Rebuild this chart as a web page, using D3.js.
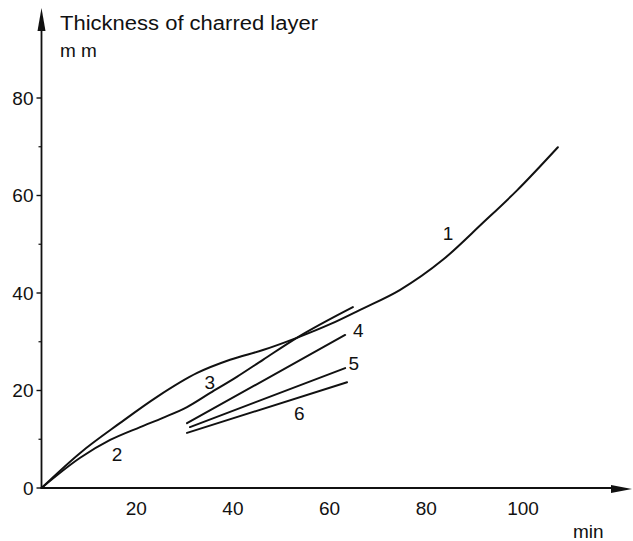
<!DOCTYPE html>
<html>
<head>
<meta charset="utf-8">
<script src="https://cdn.jsdelivr.net/npm/d3@7"></script>
<style>
  html, body { margin: 0; padding: 0; background: #fff; }
  text { font-family: "Liberation Sans", "DejaVu Sans", sans-serif; fill: #111; }
</style>
</head>
<body>
<svg id="chart" width="633" height="541"></svg>
<script>
// ---- data (time in min, thickness in mm) ----
const curve1 = [[0,0],[8.0,7.2],[16.2,13.3],[23.9,18.7],[32.2,23.6],[39.0,26.3],[45.8,28.3],[52.8,30.8],[59.7,33.6],[66.0,36.6],[74.1,40.6],[83.0,46.8],[91.3,54.4],[98.3,61.0],[106.8,69.9]];
const curve2 = [[0,0],[8.0,6.2],[14.2,9.85],[20.4,12.5],[25.1,14.4],[30.1,16.6]];
const curve3 = [[30.1,16.6],[34.9,19.5],[40.4,22.8],[45.8,26.3],[52.8,30.8],[64.4,37.1]];
const curve4 = [[30.1,13.3],[62.8,31.4]];
const curve5 = [[30.7,12.5],[62.8,24.6]];
const curve6 = [[30.1,11.3],[63.2,21.7]];
const curveNames = ["1","2","3","4","5","6"];
const labelX = [84.1, 15.6, 34.8, 65.5, 64.6, 53.3];
const labelY = [52.3, 7.0, 21.7, 32.4, 25.6, 15.4];
const yMajorTicks = [0,20,40,60,80];
const yMinorTicks = [10,30,50,70];
const xTickLabels = [20,40,60,80,100];
const yTitle = "Thickness of charred layer";
const yUnit = "m m";
const xUnit = "min";

const svg = d3.select("#chart");
const x = d3.scaleLinear().domain([0,100]).range([41.5,525]);
const y = d3.scaleLinear().domain([0,80]).range([488,98]);
const ink = "#111";

// y axis
const yAxis = svg.append("g").attr("transform", `translate(${x(0)},0)`);
yAxis.append("line").attr("x1",0).attr("x2",0).attr("y1",y(0)).attr("y2",22)
  .attr("stroke",ink).attr("stroke-width",1.8);
yAxis.append("path").attr("d","M0,8 L-4,31 L4,31 Z").attr("fill",ink);
yAxis.selectAll(".maj").data(yMajorTicks).join("line")
  .attr("x1",-5).attr("x2",0).attr("y1",d=>y(d)).attr("y2",d=>y(d))
  .attr("stroke",ink).attr("stroke-width",1.4);
yAxis.selectAll(".min").data(yMinorTicks).join("line").attr("class","min")
  .attr("x1",-3).attr("x2",0).attr("y1",d=>y(d)).attr("y2",d=>y(d))
  .attr("stroke",ink).attr("stroke-width",1.2);
yAxis.selectAll("text.tl").data(yMajorTicks).join("text").attr("class","tl")
  .attr("x",-8).attr("y",d=>y(d)).attr("dy","0.36em")
  .attr("text-anchor","end").attr("font-size",19).text(d=>d);

// x axis
const xAxis = svg.append("g");
xAxis.append("line").attr("x1",x(0)).attr("x2",616).attr("y1",y(0)).attr("y2",y(0))
  .attr("stroke",ink).attr("stroke-width",1.8);
xAxis.append("path").attr("d",`M632,${y(0)+1} L611,${y(0)-3} L611,${y(0)+5} Z`).attr("fill",ink);
xAxis.selectAll("text").data(xTickLabels).join("text")
  .attr("x",d=>x(d)-2).attr("y",y(0)+27)
  .attr("text-anchor","middle").attr("font-size",19).text(d=>d);

// titles
svg.append("text").attr("x",60).attr("y",30).attr("font-size",20)
  .attr("textLength",258).attr("lengthAdjust","spacingAndGlyphs").text(yTitle);
svg.append("text").attr("x",60).attr("y",57).attr("font-size",19).text(yUnit);
svg.append("text").attr("x",573).attr("y",538).attr("font-size",19).text(xUnit);

// curves (curve 3 continues curve 2 smoothly, so they are drawn as one stroke)
const line = d3.line().x(d=>x(d[0])).y(d=>y(d[1])).curve(d3.curveMonotoneX);
const paths = [curve1, curve2.concat(curve3.slice(1)), curve4, curve5, curve6];
svg.append("g").selectAll("path").data(paths).join("path")
  .attr("d", line).attr("fill","none").attr("stroke",ink)
  .attr("stroke-width",2).attr("stroke-linecap","round");

// curve labels
svg.append("g").selectAll("text").data(curveNames).join("text")
  .attr("x",(d,i)=>x(labelX[i])).attr("y",(d,i)=>y(labelY[i])).attr("dy","0.36em")
  .attr("text-anchor","middle").attr("font-size",19).text(d=>d);
</script>
</body>
</html>
